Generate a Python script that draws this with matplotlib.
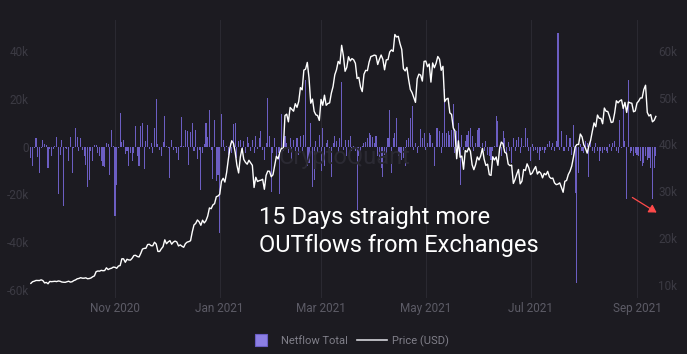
import matplotlib
matplotlib.use("Agg")
import matplotlib.pyplot as plt
from matplotlib.lines import Line2D
from matplotlib.patches import Patch, Rectangle, FancyArrowPatch
from matplotlib.legend_handler import HandlerPatch
import pandas as pd

# ---------------- data ----------------
start_date = "2020-09-13"

price_sep20 = [10330, 10680, 10790, 10950, 10940, 10930, 11080, 10920, 10420, 10530, 10240, 10740, 10690, 10730, 10770, 10710, 10840, 10780]
price_oct20 = [10620, 10570, 10550, 10670, 10790, 10600, 10670, 10920, 11060, 11300, 11380, 11540, 11430, 11430, 11510, 11320, 11360, 11480, 11740, 11920, 12820, 12970, 12930, 13110, 13030, 13070, 13650, 13270, 13460, 13560, 13800]
price_nov20 = [13760, 13550, 14030, 14130, 15580, 15570, 14830, 15480, 15330, 15300, 15700, 16280, 16320, 16070, 15960, 16720, 17650, 17800, 17820, 18620, 18680, 18370, 18360, 19110, 18730, 17150, 17140, 17720, 18180, 19630]
price_dec20 = [18800, 19200, 19450, 18700, 19150, 19360, 19170, 18320, 18550, 18260, 18040, 18800, 19140, 19250, 19440, 21310, 22800, 23140, 23870, 23480, 22740, 23820, 23240, 23730, 24710, 26440, 26280, 27080, 27360, 28840, 29000]
price_jan21 = [29370, 32130, 32780, 31970, 33990, 36820, 39370, 40800, 40250, 38350, 35570, 33920, 37320, 39190, 36820, 36180, 35790, 36630, 36070, 35540, 30810, 33000, 32100, 32280, 32370, 32570, 30430, 33400, 34320, 34270, 33110]
price_feb21 = [33520, 35510, 37470, 36930, 38290, 39260, 38900, 46200, 46480, 44840, 47910, 47500, 47110, 48720, 47940, 49200, 52150, 51680, 55890, 56100, 57540, 54210, 48820, 49700, 47090, 46340, 46190, 45140]
price_mar21 = [49630, 48380, 50540, 48370, 48760, 48880, 50970, 52380, 54880, 55960, 57750, 57230, 61190, 59000, 55640, 56470, 58750, 57850, 58350, 58100, 57350, 54100, 54340, 52300, 51300, 55000, 55840, 55780, 57610, 58790, 58920]
price_apr21 = [59100, 59000, 57090, 58210, 59120, 58190, 55960, 58080, 58140, 59770, 60200, 59890, 63500, 62970, 63110, 61530, 60330, 56200, 55720, 56470, 53900, 51760, 51090, 50050, 49000, 54020, 55030, 54820, 53550, 57750]
price_may21 = [57830, 56630, 57200, 53330, 57420, 56400, 57360, 58800, 58230, 55860, 56700, 49150, 49710, 49880, 46760, 46430, 43540, 42910, 36960, 40780, 37280, 37530, 34700, 38700, 38400, 39290, 38530, 35660, 34620, 35680, 37340]
price_jun21 = [36690, 37570, 39190, 36850, 35520, 35800, 33550, 33400, 37390, 36690, 37340, 35550, 39100, 40520, 40140, 38350, 38090, 35820, 35480, 35600, 31680, 32510, 33680, 34660, 31590, 32160, 34650, 34430, 35870, 35040]
price_jul21 = [33570, 33900, 34660, 35290, 33690, 34230, 33860, 32880, 33810, 33520, 34260, 33090, 32730, 32820, 31780, 31420, 31530, 31800, 30840, 29790, 32140, 32310, 33580, 34290, 35380, 37270, 39460, 40000, 40010, 42240, 41630]
price_aug21 = [39970, 39200, 38150, 39750, 40870, 42820, 44610, 43790, 46290, 45600, 45580, 44430, 47790, 47100, 47050, 46000, 44700, 44800, 46720, 49340, 48900, 49320, 49550, 47700, 48990, 46850, 49070, 48900, 48810, 46990, 47170]
price_sep21 = [48850, 49290, 49940, 49940, 51750, 52660, 46860, 46090, 46400, 44850, 45160, 46000]

# netflow in thousands (k)
net_sep20 = [-4.8, -8, -0.5, 3.6, -4.3, -11, -0.5, 2.7, 1.1, 0.5, -9, -1, -4, -1, 0.3, 4, -20, -3.4]
net_oct20 = [3, -25, -0.5, -1, -6, 4, -11, -0.5, 8, 4, -2, 3.5, -1.3, -4, -7.5, -17, -14, -2, -6, 0.5, 0.5, -2.7, -3.8, -6, -8, -8.7, 1.5, 1.1, -12, 7, 0.3]
net_nov20 = [-29, -16, -0.5, 14, 2, 3, -3, -2, -8, -2.7, -6, -2.7, 8.5, -4, -8, 8.5, 10, -9.5, 2.2, 9, -1, 1.5, -2.7, 8, 20, 1, -1.3, -4, 1.8, 13]
net_dec20 = [0.3, -0.6, -13, 3, -1.3, -0.6, -2.7, -5.5, 0.3, 12.5, 0.3, 7, 6.5, -7.5, 6, 10, -2, 7, -5, -1.3, -18, -2.7, 1, 10, 4, 15.5, -1.3, -13.5, 11, -14.5, -12]
net_jan21 = [-36, 13.5, 3, -2, 0.3, -3.4, 1.5, -2.7, 9.7, 10, -4.8, 2.2, 3, -1.3, 2.2, -2.7, 4, 1.5, -2, 2.7, -2.7, 4.6, -1, 3.5, 6.5, -1.3, -5.5, 1.5, 20.5, 4.3, -19]
net_feb21 = [-2.7, 3.6, -4, -2.7, -20, 13.7, -2, 4.3, 1.5, -2.7, 3.6, -5.5, 3, -2, 3.6, -3.4, 4.3, -2, 5, 28, -8, -7, 10, -17, -14, 2.2, -2.7, 5]
net_mar21 = [-10, 8, -8, 1.5, 3, -5.5, -12.5, 1.5, 4.3, 2.2, -2.7, 3.6, 27, -1.3, 2.7, -4, 3, 4.6, -2, 0.3, -2, -26.5, -4, -2.7, 0.3, 1.5, 1.8, 3.6, 5.7, 5, 4]
net_apr21 = [1.5, 4.3, -4, -5.5, -9, -12.5, -3.4, -6, 3.6, 15.5, -11, 3.6, 5.7, 12, -4, -2.7, -5.5, -4.8, -8, 3, 3.6, 12, 17, -1.3, 1.5, -2.7, 0.3, 7.4, 3.6, 5.7]
net_may21 = [-1.3, 1.5, 5.7, 5, 1.5, -8, 7.8, 8, 6.5, -2.7, 5.7, 24, 5.7, 6.5, 5, 7, 18, -2.7, 6.5, 10, -16, 5, -1.3, 2.2, 5, 6.5, 7.8, 4.3, -2, 1.5, 7]
net_jun21 = [8, -0.6, 1.5, -2, 2.2, -3.4, -4, -5.5, -2, 0.3, 12.7, 10.7, -2.7, -4, 6.5, 3.6, -2.7, 1.8, -2, -7, 3.6, -2, 3, 4, -2.7, 3.6, 0.3, 8, 3.6, -2]
net_jul21 = [-6, 1.3, -2, -1.3, -2.7, -5.5, -2, -1.3, -2.7, -1.3, 1.3, 2.2, -1.3, 1.5, -2, 2.2, 47.5, -1.3, 6.7, -2, -2, 5, -2, 3.6, -3.4, 9, -19.5, -57, -11, 1.3, -2]
net_aug21 = [-2.7, 2.2, 1.5, -12.5, 2.2, -2, -2.7, 1.5, -2, -6, -2, -2.7, -1.3, -2, -2.7, 1.1, -2, 1.5, 2.2, -2, -2.7, 11, -0.6, 16, 2.2, -22, 28, -2.7, -2, -4, -2.7]
net_sep21 = [-3.4, -4, -6, -8, -7, -4, -5.5, -4.8, -9, -22, -9, -4]

left_ticks = [-60000, -40000, -20000, 0, 20000, 40000]
left_labels = ["-60k", "-40k", "-20k", "0", "20k", "40k"]
right_ticks = [10000, 20000, 30000, 40000, 50000, 60000]
right_labels = ["10k", "20k", "30k", "40k", "50k", "60k"]
x_tick_dates = ["2020-11-01", "2021-01-01", "2021-03-01", "2021-05-01", "2021-07-01", "2021-09-01"]
x_tick_labels = ["Nov 2020", "Jan 2021", "Mar 2021", "May 2021", "Jul 2021", "Sep 2021"]
legend_labels = ["Netflow Total", "Price (USD)"]

annotation = "15 Days straight more\nOUTflows from Exchanges"

# ---------------- build ----------------
price = (price_sep20 + price_oct20 + price_nov20 + price_dec20 + price_jan21 + price_feb21 +
         price_mar21 + price_apr21 + price_may21 + price_jun21 + price_jul21 + price_aug21 + price_sep21)
netflow_k = (net_sep20 + net_oct20 + net_nov20 + net_dec20 + net_jan21 + net_feb21 +
             net_mar21 + net_apr21 + net_may21 + net_jun21 + net_jul21 + net_aug21 + net_sep21)
netflow = [v * 1000 for v in netflow_k]
n = min(len(price), len(netflow))
dates = pd.date_range(start_date, periods=n, freq="D")

BG = "#1c1b21"
fig = plt.figure(figsize=(6.87, 3.54), dpi=100, facecolor=BG)
ax = fig.add_axes([30 / 687, 56 / 354, 627 / 687, 278 / 354])
ax.set_facecolor(BG)

ax.bar(dates, netflow[:n], width=0.62, color="#6c5ec2", linewidth=0, zorder=2)
ax.set_ylim(-63300, 53000)
ax.set_xlim(dates[0] - pd.Timedelta(hours=12), dates[-1] + pd.Timedelta(hours=16))

ax2 = ax.twinx()
ax2.plot(dates, price[:n], color="#ffffff", lw=1.0, zorder=3)
ax2.set_ylim(7200, 66600)

for a in (ax, ax2):
    for s in a.spines.values():
        s.set_visible(False)
    a.tick_params(length=0)

ax.set_yticks(left_ticks)
ax.set_yticklabels(left_labels, fontsize=8.5, color="#3b3a43", family="Roboto")
ax.tick_params(axis="y", pad=1)
ax2.set_yticks(right_ticks)
ax2.set_yticklabels(right_labels, fontsize=8.5, color="#3b3a43", family="Roboto")
ax2.tick_params(axis="y", pad=1)

xt = pd.to_datetime(x_tick_dates)
ax.set_xticks(xt)
ax.set_xticklabels(x_tick_labels, fontsize=8.5, color="#5c5b66", family="Roboto")
ax.tick_params(axis="x", pad=3)
ax.grid(axis="x", color="#2a2931", lw=0.8, zorder=0)
ax.set_axisbelow(True)

# watermark
fig.text(345 / 687, 1 - 157 / 354, "CryptoQuant", fontsize=17, color="#2b2a33",
         ha="center", va="center", family="Roboto", zorder=1)

# annotation text
fig.text(259 / 687, 1 - 206 / 354, annotation, fontsize=17, color="#ffffff",
         ha="left", va="top", linespacing=1.27, family="Roboto")

# red arrow
fig.add_artist(FancyArrowPatch(
    (630 / 687, 1 - 196 / 354), (659 / 687, 1 - 214 / 354),
    transform=fig.transFigure, arrowstyle="-|>,head_length=3,head_width=1.8",
    color="#ff4a4a", lw=0.9, mutation_scale=1.5))


def square_patch(legend, orig_handle, xdescent, ydescent, width, height, fontsize):
    s = 12 * 72 / 100.0
    return Rectangle((-xdescent + (width - s) / 2, -ydescent + (height - s) / 2), s, s)


handles = [Patch(facecolor="#8c7fe4", edgecolor="#6a5ec4", lw=0.8),
           Line2D([0], [0], color="#d4d4da", lw=1.2)]
leg = fig.legend(handles, legend_labels, loc="center",
                 bbox_to_anchor=(347.5 / 687, 1 - 341 / 354), ncol=2, frameon=False,
                 handlelength=2.7, handleheight=1.0, handletextpad=0.45,
                 columnspacing=0.85, prop={"family": "Roboto", "size": 8},
                 handler_map={Patch: HandlerPatch(patch_func=square_patch)})
for t in leg.get_texts():
    t.set_color("#807f89")

fig.savefig("out.png", dpi=100, facecolor=BG)
